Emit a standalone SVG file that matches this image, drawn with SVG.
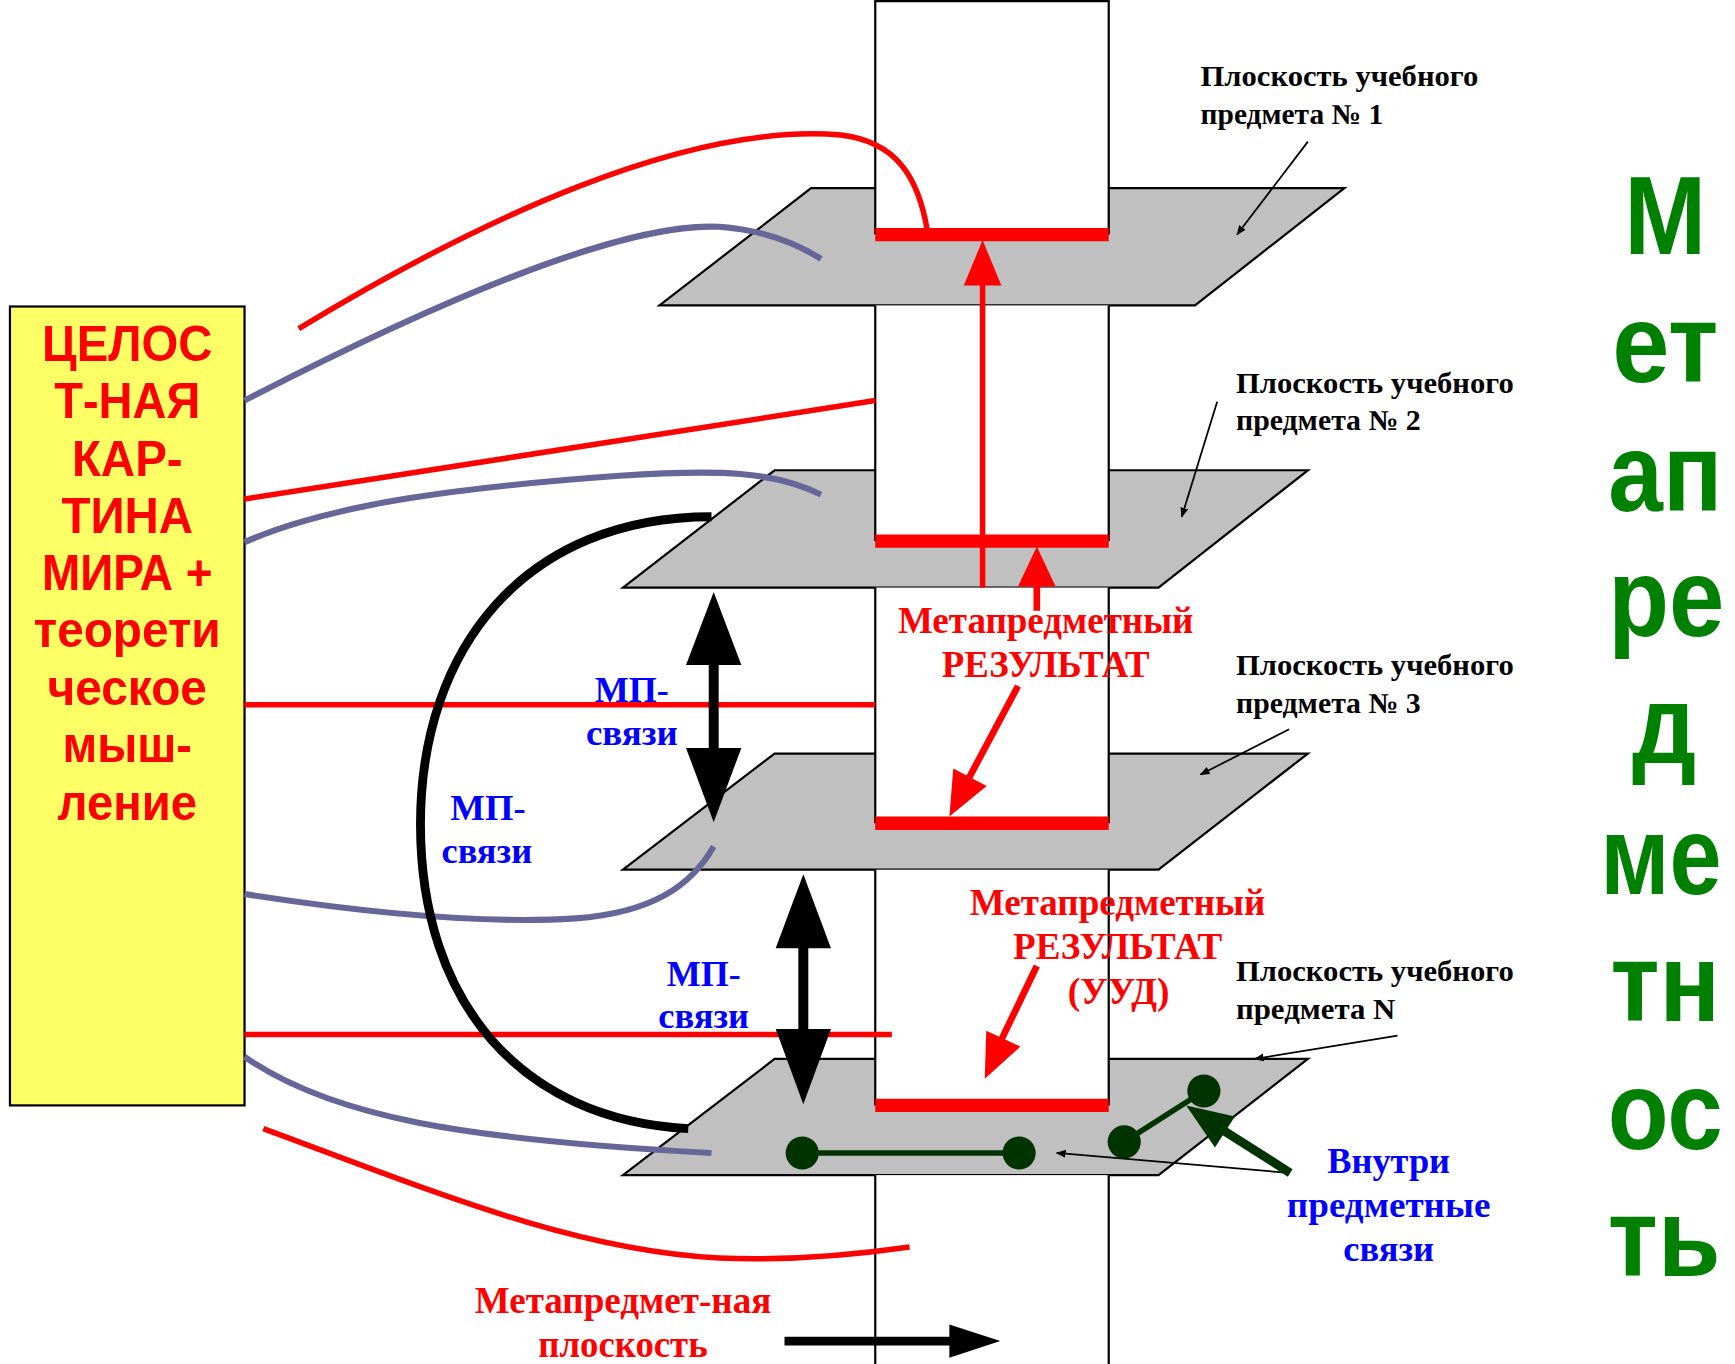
<svg xmlns="http://www.w3.org/2000/svg" width="1735" height="1364" viewBox="0 0 1735 1364">
<defs>
<marker id="sm" viewBox="0 0 10 10" refX="9" refY="5" markerWidth="9" markerHeight="9" markerUnits="userSpaceOnUse" orient="auto"><path d="M0,1 L10,5 L0,9 z" fill="#000"/></marker>
<style>
.plane{fill:#C0C0C0;stroke:#000;stroke-width:2}
.col{stroke:#000;stroke-width:2;fill:none}
.bar{stroke:#FF0000;stroke-width:12}
.red{stroke:#FF0000;stroke-width:5;fill:none}
.gray{stroke:#666699;stroke-width:5.5;fill:none}
.thin{stroke:#000;stroke-width:1.6;fill:none;marker-end:url(#sm)}
.bx{font-family:"Liberation Sans",Arial,sans-serif;font-weight:bold;font-size:45px;fill:#FF0000;text-anchor:middle}
.gr{font-family:"Liberation Sans",Arial,sans-serif;font-weight:bold;font-size:100px;fill:#008000;text-anchor:middle}
.lb{font-family:"Liberation Serif","Times New Roman",serif;font-weight:bold;font-size:26px;fill:#000}
.rt{font-family:"Liberation Serif","Times New Roman",serif;font-weight:bold;font-size:34px;fill:#FF0000;text-anchor:middle}
.bt{font-family:"Liberation Serif","Times New Roman",serif;font-weight:bold;font-size:33px;fill:#0000FF;text-anchor:middle}
</style>
</defs>
<rect width="1735" height="1364" fill="#fff"/>
<g transform="scale(1.10651)">
<g id="planes">
<polygon class="plane" points="733,170 1215,170 1080,276 596,276"/>
<polygon class="plane" points="700,425 1182,425 1047,531 563,531"/>
<polygon class="plane" points="700,681 1182,681 1047,786 563,786"/>
<polygon class="plane" points="700,957 1182,957 1047,1062 563,1062"/>
</g>
<g id="column">
<rect x="791" y="0" width="211" height="212" fill="#fff"/>
<rect x="791" y="276" width="211" height="213" fill="#fff"/>
<rect x="791" y="531" width="211" height="213" fill="#fff"/>
<rect x="791" y="786" width="211" height="213" fill="#fff"/>
<rect x="791" y="1062" width="211" height="171" fill="#fff"/>
<path class="col" d="M791,212 V1 H1002 V212 M791,276 V489 M1002,276 V489 M791,531 V744 M1002,531 V744 M791,786 V999 M1002,786 V999 M791,1062 V1233 M1002,1062 V1233"/>
<line class="bar" x1="791" y1="212" x2="1002" y2="212"/>
<line class="bar" x1="791" y1="489" x2="1002" y2="489"/>
<line class="bar" x1="791" y1="744" x2="1002" y2="744"/>
<line class="bar" x1="791" y1="999" x2="1002" y2="999"/>
</g>
<g id="world-box">
<rect x="9" y="277" width="212" height="722" fill="#FFFF66" stroke="#000" stroke-width="2"/>
<text class="bx" x="115" y="326" textLength="154" lengthAdjust="spacingAndGlyphs">ЦЕЛОС</text>
<text class="bx" x="115" y="378" textLength="132" lengthAdjust="spacingAndGlyphs">Т-НАЯ</text>
<text class="bx" x="115" y="430" textLength="100" lengthAdjust="spacingAndGlyphs">КАР-</text>
<text class="bx" x="115" y="482" textLength="119" lengthAdjust="spacingAndGlyphs">ТИНА</text>
<text class="bx" x="115" y="533" textLength="154" lengthAdjust="spacingAndGlyphs">МИРА +</text>
<text class="bx" x="115" y="585" textLength="169" lengthAdjust="spacingAndGlyphs">теорети</text>
<text class="bx" x="115" y="637" textLength="144" lengthAdjust="spacingAndGlyphs">ческое</text>
<text class="bx" x="115" y="689" textLength="117" lengthAdjust="spacingAndGlyphs">мыш-</text>
<text class="bx" x="115" y="741" textLength="126" lengthAdjust="spacingAndGlyphs">ление</text>
</g>
<g id="connectors">
<path class="red" d="M270,297 C430,200 620,110 760,122 C810,128 830,160 838,208"/>
<line class="red" x1="221" y1="451" x2="791" y2="362"/>
<line class="red" x1="221" y1="637" x2="791" y2="637"/>
<line class="red" x1="221" y1="935" x2="806" y2="935"/>
<path class="red" d="M238,1020 C400,1080 520,1130 650,1137 C720,1140 780,1133 822,1127"/>
<path class="gray" d="M221,362 C380,280 560,200 650,205 C690,208 720,220 742,234"/>
<path class="gray" d="M221,490 C300,455 420,440 560,430 C650,424 700,426 742,447"/>
<path class="gray" d="M221,808 C330,825 440,835 520,830 C590,825 625,800 645,765"/>
<path class="gray" d="M221,955 C300,1010 420,1030 643,1042"/>
<path d="M643,467 C475,467 380,585 380,745 C380,905 470,1012 622,1020" stroke="#000" stroke-width="8" fill="none"/>
<line x1="888" y1="531" x2="888" y2="250" stroke="#FF0000" stroke-width="5"/>
<polygon points="888,217 871,258 905,258" fill="#FF0000"/>
<line x1="937" y1="552" x2="937" y2="525" stroke="#FF0000" stroke-width="6"/>
<polygon points="937,494 920,530 954,530" fill="#FF0000"/>
<line x1="920" y1="620" x2="872" y2="710" stroke="#FF0000" stroke-width="6"/>
<polygon points="858,738 891.7,710.4 861.5,694.6" fill="#FF0000"/>
<line x1="937" y1="873" x2="900" y2="950" stroke="#FF0000" stroke-width="6"/>
<polygon points="890,975 922.1,945.8 891.3,931.6" fill="#FF0000"/>
<line x1="645" y1="598" x2="645" y2="680" stroke="#000" stroke-width="9"/>
<polygon points="645,535 620,601 670,601" fill="#000"/>
<polygon points="645,743 620,676 670,676" fill="#000"/>
<line x1="726" y1="854" x2="726" y2="934" stroke="#000" stroke-width="9"/>
<polygon points="726,790 701,857 751,857" fill="#000"/>
<polygon points="726,998 701,930 751,930" fill="#000"/>
<line x1="709" y1="1212" x2="862" y2="1212" stroke="#000" stroke-width="8"/>
<polygon points="904,1212 858,1197 858,1227" fill="#000"/>
<line class="thin" x1="1182" y1="128" x2="1118" y2="212"/>
<line class="thin" x1="1100" y1="363" x2="1068" y2="467"/>
<line class="thin" x1="1165" y1="659" x2="1085" y2="700"/>
<line class="thin" x1="1263" y1="936" x2="1134" y2="957"/>
<line class="thin" x1="1165" y1="1060" x2="955" y2="1042"/>
<line x1="1166" y1="1060" x2="1100" y2="1018" stroke="#003300" stroke-width="8"/>
<polygon points="1072,999 1098,1037 1116,1009" fill="#003300"/>
</g>
<g id="inner-links">
<line x1="725" y1="1042" x2="921" y2="1042" stroke="#003300" stroke-width="5"/>
<ellipse cx="725" cy="1042" rx="15" ry="15" fill="#003300"/>
<ellipse cx="921" cy="1042" rx="15" ry="15" fill="#003300"/>
<line x1="1016" y1="1032" x2="1088" y2="986" stroke="#003300" stroke-width="5"/>
<ellipse cx="1016" cy="1032" rx="15" ry="15" fill="#003300"/>
<ellipse cx="1088" cy="986" rx="15" ry="15" fill="#003300"/>
</g>
<g id="labels">
<text class="lb" x="1085" y="78" textLength="251" lengthAdjust="spacingAndGlyphs">Плоскость учебного</text>
<text class="lb" x="1085" y="112" textLength="165" lengthAdjust="spacingAndGlyphs">предмета № 1</text>
<text class="lb" x="1117" y="355" textLength="251" lengthAdjust="spacingAndGlyphs">Плоскость учебного</text>
<text class="lb" x="1117" y="389" textLength="167" lengthAdjust="spacingAndGlyphs">предмета № 2</text>
<text class="lb" x="1117" y="610" textLength="251" lengthAdjust="spacingAndGlyphs">Плоскость учебного</text>
<text class="lb" x="1117" y="644" textLength="167" lengthAdjust="spacingAndGlyphs">предмета № 3</text>
<text class="lb" x="1117" y="887" textLength="251" lengthAdjust="spacingAndGlyphs">Плоскость учебного</text>
<text class="lb" x="1117" y="921" textLength="144" lengthAdjust="spacingAndGlyphs">предмета  N</text>
<text class="rt" x="945" y="572" textLength="267" lengthAdjust="spacingAndGlyphs">Метапредметный</text>
<text class="rt" x="945" y="612" textLength="188" lengthAdjust="spacingAndGlyphs">РЕЗУЛЬТАТ</text>
<text class="rt" x="1010" y="827" textLength="267" lengthAdjust="spacingAndGlyphs">Метапредметный</text>
<text class="rt" x="1010" y="867" textLength="189" lengthAdjust="spacingAndGlyphs">РЕЗУЛЬТАТ</text>
<text class="rt" x="1011" y="907" textLength="92" lengthAdjust="spacingAndGlyphs">(УУД)</text>
<text class="rt" x="563" y="1187" textLength="268" lengthAdjust="spacingAndGlyphs">Метапредмет-ная</text>
<text class="rt" x="563" y="1226" textLength="153" lengthAdjust="spacingAndGlyphs">плоскость</text>
<text class="bt" x="571" y="634" textLength="67" lengthAdjust="spacingAndGlyphs">МП-</text>
<text class="bt" x="571" y="673" textLength="83" lengthAdjust="spacingAndGlyphs">связи</text>
<text class="bt" x="441" y="741" textLength="68" lengthAdjust="spacingAndGlyphs">МП-</text>
<text class="bt" x="440" y="780" textLength="82" lengthAdjust="spacingAndGlyphs">связи</text>
<text class="bt" x="636" y="891" textLength="67" lengthAdjust="spacingAndGlyphs">МП-</text>
<text class="bt" x="636" y="929" textLength="82" lengthAdjust="spacingAndGlyphs">связи</text>
<text class="bt" x="1255" y="1060" textLength="111" lengthAdjust="spacingAndGlyphs">Внутри</text>
<text class="bt" x="1255" y="1100" textLength="184" lengthAdjust="spacingAndGlyphs">предметные</text>
<text class="bt" x="1255" y="1140" textLength="82" lengthAdjust="spacingAndGlyphs">связи</text>
</g>
<g id="side-title">
<text class="gr" x="1505" y="230" textLength="74" lengthAdjust="spacingAndGlyphs">М</text>
<text class="gr" x="1505" y="345" textLength="96" lengthAdjust="spacingAndGlyphs">ет</text>
<text class="gr" x="1505" y="462" textLength="103" lengthAdjust="spacingAndGlyphs">ап</text>
<text class="gr" x="1506" y="575" textLength="105" lengthAdjust="spacingAndGlyphs">ре</text>
<text class="gr" x="1504" y="690" textLength="58" lengthAdjust="spacingAndGlyphs">д</text>
<text class="gr" transform="translate(1501,808) scale(0.87,1)" x="0" y="0" textLength="126" lengthAdjust="spacingAndGlyphs">ме</text>
<text class="gr" x="1505" y="923" textLength="99" lengthAdjust="spacingAndGlyphs">тн</text>
<text class="gr" x="1505" y="1038" textLength="104" lengthAdjust="spacingAndGlyphs">ос</text>
<text class="gr" x="1504" y="1153" textLength="102" lengthAdjust="spacingAndGlyphs">ть</text>
</g>
</g>
</svg>
